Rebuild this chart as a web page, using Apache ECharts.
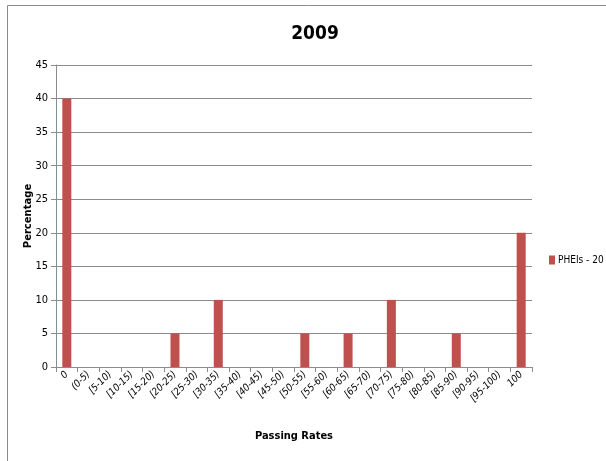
<!DOCTYPE html>
<html><head><meta charset="utf-8">
<script src="https://cdn.jsdelivr.net/npm/echarts@6/dist/echarts.min.js"></script>
<style>html,body{margin:0;padding:0;background:#fff}#c{width:606px;height:461px}</style>
</head><body><div id="c"></div>
<script>
const categories = ['0','(0-5)','[5-10)','[10-15)','[15-20)','[20-25)','[25-30)','[30-35)','[35-40)','[40-45)','[45-50)','[50-55)','[55-60)','[60-65)','[65-70)','[70-75)','[75-80)','[80-85)','[85-90)','[90-95)','[95-100)','100'];
const values = [40,0,0,0,0,5,0,10,0,0,0,5,0,5,0,10,0,0,5,0,0,20];
const seriesName = 'PHEIs - 20';
const yTicks = [0,5,10,15,20,25,30,35,40,45];
const FONT = "'DejaVu Sans Condensed','Liberation Sans Narrow','Liberation Sans',sans-serif";
const chart = echarts.init(document.getElementById('c'));
chart.setOption({
  animation:false,
  graphic:[{type:'rect',shape:{x:7.5,y:5.5,width:620,height:480},style:{fill:'none',stroke:'#8c8c8c',lineWidth:1}}],
  title:{text:'2009',left:310,top:20,textAlign:'center',textStyle:{fontFamily:FONT,fontWeight:'bold',fontSize:19,color:'#000'}},
  legend:{data:[seriesName],orient:'vertical',left:544,top:250,itemWidth:6,itemHeight:9,itemGap:4,icon:'rect',
    textStyle:{fontFamily:FONT,fontSize:10,color:'#000',padding:[0,0,0,-2]}},
  grid:{left:56,right:74,top:65,bottom:94,containLabel:false},
  xAxis:{type:'category',data:categories,name:'Passing Rates',nameLocation:'middle',nameGap:64,nameMoveOverlap:false,
    nameTextStyle:{fontFamily:FONT,fontWeight:'bold',fontSize:11,color:'#000'},
    axisLine:{lineStyle:{color:'#8c8c8c'}},axisTick:{show:true,length:5,lineStyle:{color:'#8c8c8c'}},
    axisLabel:{rotate:45,interval:0,fontFamily:FONT,fontSize:10,color:'#000',fontStyle:'italic',margin:6}},
  yAxis:{type:'value',min:0,max:45,interval:5,name:'Percentage',nameLocation:'middle',nameGap:23,nameMoveOverlap:false,
    nameTextStyle:{fontFamily:"'DejaVu Sans',sans-serif",fontWeight:'bold',fontSize:10,color:'#000'},
    axisLine:{show:true,lineStyle:{color:'#8c8c8c'}},axisTick:{show:true,length:5,lineStyle:{color:'#8c8c8c'}},
    splitLine:{lineStyle:{color:'#8c8c8c',width:1}},
    axisLabel:{fontFamily:FONT,fontSize:11,color:'#000',margin:8,
      formatter:v=>yTicks.includes(v)?String(v):''}},
  series:[{name:seriesName,type:'bar',data:values,barWidth:9,itemStyle:{color:'#C0504D'}}]
});
</script></body></html>
